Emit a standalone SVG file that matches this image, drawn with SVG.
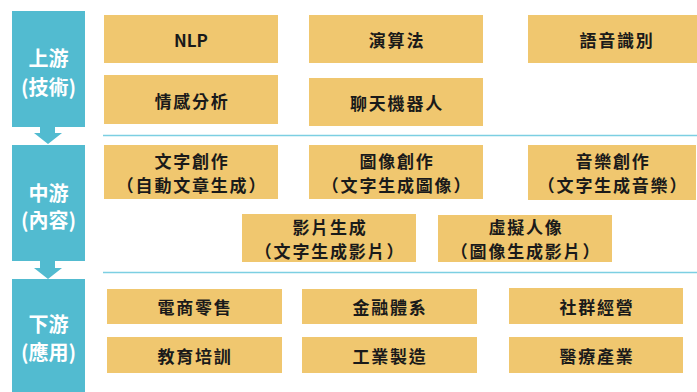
<svg xmlns="http://www.w3.org/2000/svg" width="697" height="392" viewBox="0 0 697 392">
<style>
.stage{fill:#52BBD0;}
.box{fill:#F0C76F;}
.st{font-family:"Noto Sans CJK TC","Noto Sans CJK SC",sans-serif;font-size:20px;font-weight:700;fill:#ffffff;text-anchor:middle;dominant-baseline:central;}
.bt{font-family:"Noto Sans CJK TC","Noto Sans CJK SC",sans-serif;font-size:17px;font-weight:700;fill:#1a1a1a;text-anchor:middle;dominant-baseline:central;letter-spacing:1.8px;}
.nl{letter-spacing:0;}
.div{stroke:#7CCFE2;stroke-width:1.5;fill:none;}
.arr{fill:#52BBD0;}
</style>
<g id="connectors">
<line class="div" x1="103" y1="135.5" x2="697" y2="135.5"/>
<line class="div" x1="103" y1="272.5" x2="697" y2="272.5"/>
<polygon class="arr" points="40,127 55,127 55,133 62,133 48,144 34,133 40,133"/>
<polygon class="arr" points="40,261 55,261 55,268 62,268 48,279 34,268 40,268"/>
</g>
<g id="stage-upstream">
<rect class="stage" x="12" y="11" width="73" height="116"/>
<text class="st" x="48.5" y="57">上游</text>
<text class="st" x="48.5" y="86">(技術)</text>
</g>
<g id="stage-midstream">
<rect class="stage" x="12" y="145" width="73" height="116"/>
<text class="st" x="48.5" y="192">中游</text>
<text class="st" x="48.5" y="219">(內容)</text>
</g>
<g id="stage-downstream">
<rect class="stage" x="12" y="279" width="73" height="113"/>
<text class="st" x="48.5" y="323">下游</text>
<text class="st" x="48.5" y="351">(應用)</text>
</g>
<g id="nlp"><rect class="box" x="104" y="15" width="174" height="48"/><text class="bt nl" x="191" y="39">NLP</text></g>
<g id="algorithm"><rect class="box" x="309" y="15" width="174" height="48"/><text class="bt" x="397" y="39">演算法</text></g>
<g id="speech"><rect class="box" x="528" y="15" width="169" height="48"/><text class="bt" x="617" y="39">語音識別</text></g>
<g id="sentiment"><rect class="box" x="104" y="75" width="174" height="49"/><text class="bt" x="192" y="100">情感分析</text></g>
<g id="chatbot"><rect class="box" x="309" y="78" width="174" height="48"/><text class="bt" x="397" y="102">聊天機器人</text></g>
<g id="text-gen"><rect class="box" x="104" y="145" width="174" height="54"/><text class="bt" x="192" y="160">文字創作</text><text class="bt" x="192" y="184">（自動文章生成）</text></g>
<g id="image-gen"><rect class="box" x="309" y="145" width="174" height="54"/><text class="bt" x="397" y="160">圖像創作</text><text class="bt" x="397" y="184">（文字生成圖像）</text></g>
<g id="music-gen"><rect class="box" x="528" y="145" width="168" height="55"/><text class="bt" x="613" y="160">音樂創作</text><text class="bt" x="613" y="184">（文字生成音樂）</text></g>
<g id="video-gen"><rect class="box" x="242" y="214" width="174" height="48"/><text class="bt" x="330" y="226">影片生成</text><text class="bt" x="330" y="250">（文字生成影片）</text></g>
<g id="avatar"><rect class="box" x="438" y="215" width="174" height="47"/><text class="bt" x="526" y="226">虛擬人像</text><text class="bt" x="526" y="250">（圖像生成影片）</text></g>
<g id="ecommerce"><rect class="box" x="107" y="289" width="175" height="35"/><text class="bt" x="195" y="306">電商零售</text></g>
<g id="finance"><rect class="box" x="302" y="289" width="175" height="35"/><text class="bt" x="390" y="306">金融體系</text></g>
<g id="community"><rect class="box" x="509" y="288" width="174" height="36"/><text class="bt" x="597" y="306">社群經營</text></g>
<g id="education"><rect class="box" x="107" y="337" width="175" height="36"/><text class="bt" x="195" y="355">教育培訓</text></g>
<g id="industry"><rect class="box" x="302" y="337" width="175" height="36"/><text class="bt" x="390" y="355">工業製造</text></g>
<g id="medical"><rect class="box" x="509" y="337" width="174" height="36"/><text class="bt" x="597" y="355">醫療產業</text></g>
</svg>
